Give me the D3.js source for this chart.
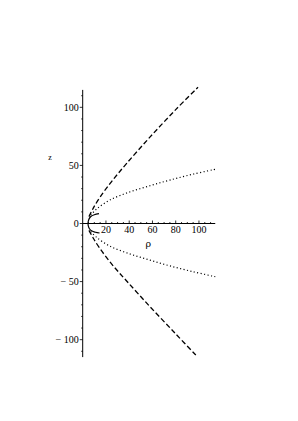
<!DOCTYPE html>
<html>
<head>
<meta charset="utf-8">
<script src="https://cdn.jsdelivr.net/npm/d3@7"></script>
<style>
  html, body { margin: 0; padding: 0; background: #fff; }
  svg { display: block; }
</style>
</head>
<body>
<svg id="chart" width="298" height="421"></svg>
<script>
// ---- data ----
const xTicks = [20, 40, 60, 80, 100];
const yTicks = [-100, -50, 0, 50, 100];
const xLabel = "ρ";
const yLabel = "z";

// solid curve (rho, z)
const solidRho = [14, 10, 7, 5.5, 4.7, 4.6, 4.8, 5.8, 8, 11, 14.5];
const solidZ   = [8.5, 7.5, 6, 4, 1.5, 0, -2, -4.5, -6.5, -7.5, -8.2];

// dashed curve, upper branch
const dashUpRho = [5.4, 9, 14.8, 25, 37.8, 57.8, 80, 99.2];
const dashUpZ   = [5.9, 13, 22.5, 36.3, 51.7, 74.3, 98, 117.3];
// dashed curve, lower branch
const dashLoRho = [5.4, 9, 14.8, 25, 37.8, 57.8, 80, 97.9];
const dashLoZ   = [-5.9, -12.5, -21.5, -35, -49.5, -71.5, -95, -113.9];

// dotted curve, upper branch
const dotUpRho = [6.9, 12, 23.4, 40, 57.8, 75, 95, 115];
const dotUpZ   = [7.2, 12.5, 20.2, 27, 32.5, 37.4, 42.5, 46.9];
// dotted curve, lower branch
const dotLoRho = [6.9, 12, 23.4, 40, 57.8, 75, 95, 114];
const dotLoZ   = [-7.0, -12, -19.5, -26, -31.5, -36.5, -41.5, -45.8];

// ---- drawing ----
const svg = d3.select("#chart");
const x = d3.scaleLinear().domain([0, 115]).range([82.7, 216.4]);
const y = d3.scaleLinear().domain([-115, 115]).range([357.1, 89.9]);
const font = "'Liberation Serif', 'DejaVu Serif', serif";

const zip = (a, b) => a.map((v, i) => [v, b[i]]);
const line = d3.line().x(d => x(d[0])).y(d => y(d[1])).curve(d3.curveCatmullRom.alpha(0.5));

// y axis
const yAxis = svg.append("g").attr("transform", `translate(${x(0)},0)`);
yAxis.append("line").attr("y1", y(-115)).attr("y2", y(115)).attr("stroke", "#000").attr("stroke-width", 1);
yAxis.selectAll(".ymin").data(d3.range(-110, 111, 10).filter(v => v % 50 !== 0)).join("line")
  .attr("x1", -1.5).attr("x2", 0).attr("y1", d => y(d)).attr("y2", d => y(d))
  .attr("stroke", "#000").attr("stroke-width", 0.8);
yAxis.selectAll(".ymaj").data(yTicks).join("line")
  .attr("x1", -3).attr("x2", 0).attr("y1", d => y(d)).attr("y2", d => y(d))
  .attr("stroke", "#000").attr("stroke-width", 0.8);
yAxis.selectAll("text").data(yTicks).join("text")
  .attr("x", -4).attr("y", d => y(d)).attr("dy", "0.35em")
  .attr("text-anchor", "end").attr("font-family", font).attr("font-size", 10).attr("fill", "#000")
  .text(d => d < 0 ? "\u2212 " + Math.abs(d) : d);

// x axis
const xAxis = svg.append("g").attr("transform", `translate(0,${y(0)})`);
xAxis.append("line").attr("x1", x(0)).attr("x2", x(114)).attr("stroke", "#000").attr("stroke-width", 1);
xAxis.selectAll(".xmin").data(d3.range(5, 115, 5).filter(v => v % 20 !== 0)).join("line")
  .attr("x1", d => x(d)).attr("x2", d => x(d)).attr("y1", -1.5).attr("y2", 0)
  .attr("stroke", "#000").attr("stroke-width", 0.8);
xAxis.selectAll(".xmaj").data(xTicks).join("line")
  .attr("x1", d => x(d)).attr("x2", d => x(d)).attr("y1", -3).attr("y2", 0)
  .attr("stroke", "#000").attr("stroke-width", 0.8);
xAxis.selectAll("text").data(xTicks).join("text")
  .attr("x", d => x(d)).attr("y", 9)
  .attr("text-anchor", "middle").attr("font-family", font).attr("font-size", 10).attr("fill", "#000")
  .text(d => d);

// axis labels
svg.append("text").attr("x", 50).attr("y", 157).attr("dy", "0.35em")
  .attr("text-anchor", "middle").attr("font-family", font).attr("font-size", 8).attr("fill", "#000").text(yLabel);
svg.append("text").attr("x", 148.3).attr("y", 244).attr("dy", "0.35em")
  .attr("text-anchor", "middle").attr("font-family", "'DejaVu Serif', serif").attr("font-size", 9.5).attr("fill", "#000").text(xLabel);

// curves
const g = svg.append("g").attr("fill", "none").attr("stroke", "#000");
g.append("path").attr("d", line(zip(solidRho, solidZ))).attr("stroke-width", 1.2);
g.append("path").attr("d", line(zip(dashUpRho, dashUpZ))).attr("stroke-width", 1.3).attr("stroke-dasharray", "5,2.6");
g.append("path").attr("d", line(zip(dashLoRho, dashLoZ))).attr("stroke-width", 1.3).attr("stroke-dasharray", "5,2.6");
g.append("path").attr("d", line(zip(dotUpRho, dotUpZ))).attr("stroke-width", 1.2).attr("stroke-dasharray", "1.1,2.4");
g.append("path").attr("d", line(zip(dotLoRho, dotLoZ))).attr("stroke-width", 1.2).attr("stroke-dasharray", "1.1,2.4");
</script>
</body>
</html>
